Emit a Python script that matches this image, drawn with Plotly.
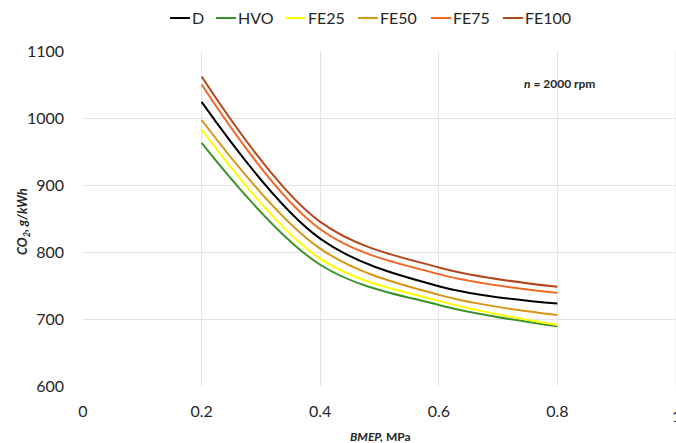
import plotly.graph_objects as go

bmep = [0.2, 0.4, 0.6, 0.8]
series_names = ["D", "HVO", "FE25", "FE50", "FE75", "FE100"]
co2_D = [1024, 820, 749, 723]
co2_HVO = [963, 781, 721, 689]
co2_FE25 = [983, 790, 727, 691]
co2_FE50 = [997, 805, 736, 706]
co2_FE75 = [1050, 834, 767, 739]
co2_FE100 = [1062, 845, 777, 748]
x_ticks = [0, 0.2, 0.4, 0.6, 0.8]
x_tick_labels = ["0", "0.2", "0.4", "0.6", "0.8"]
x_last_tick = 1
x_last_label = "1"
y_ticks = [600, 700, 800, 900, 1000, 1100]

colors = ["#000000", "#3a932b", "#ffff00", "#d99411", "#f26522", "#b5471c"]
values = [co2_D, co2_HVO, co2_FE25, co2_FE50, co2_FE75, co2_FE100]

FONT = "Lato, Open Sans, sans-serif"
TXT = "#262626"
L, R, T, B = 83, 0, 51, 57
W, H = 676, 443
pw = W - L - R
ph = H - T - B

def px_x(p):
    return (p - L) / pw

def px_y(p):
    return (H - B - p) / ph

fig = go.Figure()
for name, vals, col in zip(series_names, values, colors):
    fig.add_trace(go.Scatter(
        x=bmep, y=vals, name=name, mode="lines", showlegend=False,
        line=dict(color=col, width=2, shape="spline", smoothing=1.0),
    ))

# custom legend (short line + label), matching the reference's compact style
legend_starts = [170, 216, 286, 358, 431, 503]
shapes = []
annotations = []
for name, col, x0 in zip(series_names, colors, legend_starts):
    shapes.append(dict(type="line", xref="paper", yref="paper",
                       x0=px_x(x0), x1=px_x(x0 + 20), y0=px_y(18), y1=px_y(18),
                       line=dict(color=col, width=2)))
    annotations.append(dict(text=name, xref="paper", yref="paper",
                            x=px_x(x0 + 20), y=px_y(18), xanchor="left", yanchor="middle",
                            showarrow=False, font=dict(size=16, color=TXT)))

shapes.append(dict(type="line", xref="x", yref="paper", x0=1, x1=1, y0=0, y1=1,
                   line=dict(color="#e4e4e4", width=1), layer="below"))

annotations += [
    dict(text="<b><i>n</i> = 2000 rpm</b>", x=0.804, y=1051, xref="x", yref="y",
         xanchor="center", yanchor="middle",
         showarrow=False, font=dict(size=12, color=TXT)),
    dict(text="<b><i>CO<sub>2</sub>, g/kWh</i></b>",
         xref="paper", yref="paper", x=px_x(23), y=px_y(222),
         xanchor="center", yanchor="middle", showarrow=False, textangle=-90,
         font=dict(size=13, color=TXT)),
    dict(text="<b><i>BMEP,</i> MPa</b>",
         xref="paper", yref="paper", x=px_x(380), y=px_y(436),
         xanchor="center", yanchor="middle", showarrow=False,
         font=dict(size=12, color=TXT)),
    dict(text=x_last_label, xref="x", yref="paper", x=x_last_tick, y=px_y(415),
         xanchor="center", yanchor="middle", showarrow=False,
         font=dict(size=16, color=TXT)),
]

fig.update_layout(
    width=W, height=H,
    margin=dict(l=L, r=R, t=T, b=B),
    plot_bgcolor="white", paper_bgcolor="white",
    font=dict(family=FONT, size=16, color=TXT),
    showlegend=False,
    xaxis=dict(range=[0, 1], tickvals=x_ticks, ticktext=x_tick_labels,
               showgrid=True, gridcolor="#e4e4e4", gridwidth=1,
               zeroline=False, showline=False, ticks="", ticklabelstandoff=14,
               tickfont=dict(size=16, color=TXT)),
    yaxis=dict(range=[600, 1100], tickvals=y_ticks,
               showgrid=True, gridcolor="#e4e4e4", gridwidth=1,
               zeroline=False, showline=False, ticks="", ticklabelstandoff=18,
               tickfont=dict(size=16, color=TXT)),
    shapes=shapes,
    annotations=annotations,
)
fig.write_html("out.html", config={"displayModeBar": False},
               post_script="document.body.style.margin='0';")
